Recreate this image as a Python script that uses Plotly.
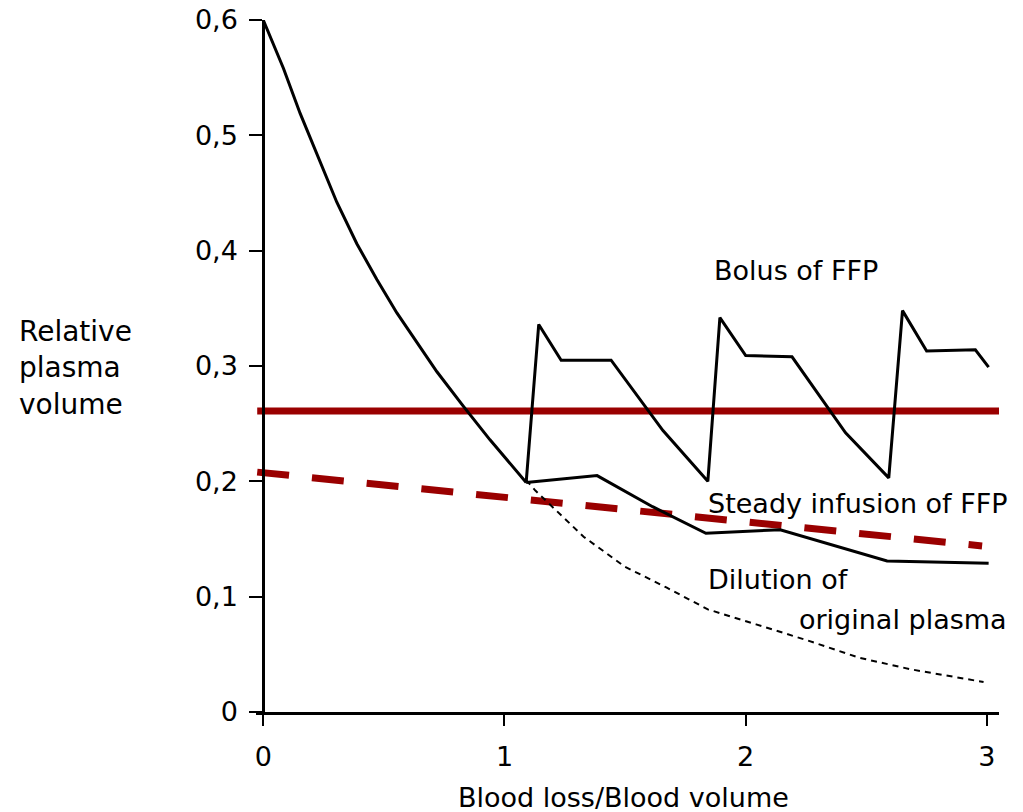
import plotly.graph_objects as go

# ---- data ----
decay_x = [0.0, 0.084, 0.153, 0.222, 0.305, 0.388, 0.471, 0.554, 0.637, 0.720, 0.830, 0.940, 1.090]
decay_y = [0.600, 0.558, 0.519, 0.484, 0.442, 0.406, 0.375, 0.346, 0.320, 0.295, 0.265, 0.236, 0.199]

bolus_x = [1.090, 1.142, 1.235, 1.442, 1.657, 1.843, 1.893, 2.000, 2.192, 2.414, 2.593, 2.650, 2.750, 2.952, 3.007]
bolus_y = [0.199, 0.336, 0.305, 0.305, 0.244, 0.200, 0.342, 0.309, 0.308, 0.242, 0.203, 0.348, 0.313, 0.314, 0.299]

steady_x = [1.090, 1.384, 1.614, 1.835, 2.143, 2.586, 3.007]
steady_y = [0.199, 0.205, 0.178, 0.155, 0.158, 0.131, 0.129]

dilution_x = [1.090, 1.128, 1.328, 1.499, 1.671, 1.843, 2.043, 2.257, 2.471, 2.685, 2.986]
dilution_y = [0.201, 0.192, 0.152, 0.126, 0.108, 0.089, 0.076, 0.062, 0.047, 0.037, 0.026]

red_solid_x = [-0.025, 3.05]
red_solid_y = [0.261, 0.261]

red_dash_x = [-0.025, 2.98]
red_dash_y = [0.208, 0.144]

y_ticks = [0, 0.1, 0.2, 0.3, 0.4, 0.5, 0.6]
y_tick_text = ["0", "0,1", "0,2", "0,3", "0,4", "0,5", "0,6"]
x_ticks = [0, 1, 2, 3]
x_tick_text = ["0", "1", "2", "3"]

labels = [
    ("Bolus of FFP", 1.861, 0.383),
    ("Steady infusion of FFP", 1.836, 0.181),
    ("Dilution of", 1.836, 0.1145),
    ("original plasma", 2.213, 0.080),
]

FONT = "DejaVu Sans"
RED = "#9a0000"
X_RANGE = [-0.03, 3.05]

fig = go.Figure()
fig.add_trace(go.Scatter(x=red_solid_x, y=red_solid_y, mode="lines",
                         line=dict(color=RED, width=7)))
fig.add_trace(go.Scatter(x=red_dash_x, y=red_dash_y, mode="lines",
                         line=dict(color=RED, width=7, dash="32px,23px")))
fig.add_trace(go.Scatter(x=decay_x, y=decay_y, mode="lines",
                         line=dict(color="black", width=3)))
fig.add_trace(go.Scatter(x=bolus_x, y=bolus_y, mode="lines",
                         line=dict(color="black", width=3)))
fig.add_trace(go.Scatter(x=steady_x, y=steady_y, mode="lines",
                         line=dict(color="black", width=3)))
fig.add_trace(go.Scatter(x=dilution_x, y=dilution_y, mode="lines",
                         line=dict(color="black", width=2, dash="6px,5px")))

for txt, x, y in labels:
    fig.add_annotation(x=x, y=y, text=txt, showarrow=False, xanchor="left", yanchor="middle",
                       font=dict(family=FONT, size=27, color="black"))

fig.add_annotation(xref="paper", yref="paper", x=-0.322, y=0.497,
                   text="Relative<br>plasma<br>volume", showarrow=False,
                   xanchor="left", yanchor="middle", align="left",
                   font=dict(family=FONT, size=28, color="black"))
fig.add_annotation(xref="paper", yref="paper", x=0.494, y=-0.123,
                   text="Blood loss/Blood volume", showarrow=False,
                   xanchor="center", yanchor="middle",
                   font=dict(family=FONT, size=27, color="black"))

ypos = (0 - X_RANGE[0]) / (X_RANGE[1] - X_RANGE[0])

fig.update_layout(
    width=1023, height=812,
    margin=dict(l=256, r=24, t=20, b=100),
    paper_bgcolor="white", plot_bgcolor="white",
    showlegend=False,
    font=dict(family=FONT, size=27, color="black"),
    xaxis=dict(range=X_RANGE, showgrid=False, zeroline=False, automargin=False,
               showline=True, linecolor="black", linewidth=3,
               ticks="outside", ticklen=11, tickwidth=2, tickcolor="black",
               tickvals=x_ticks, ticktext=x_tick_text, ticklabelstandoff=8,
               ticklabeloverflow="allow",
               tickfont=dict(family=FONT, size=27)),
    yaxis=dict(range=[0, 0.6], showgrid=False, zeroline=False, automargin=False,
               anchor="free", position=ypos,
               showline=True, linecolor="black", linewidth=3,
               ticks="outside", ticklen=13, tickwidth=2, tickcolor="black",
               tickvals=y_ticks, ticktext=y_tick_text, ticklabelstandoff=6,
               ticklabeloverflow="allow",
               tickfont=dict(family=FONT, size=27)),
)

fig.write_html("out.html",
               config={"displayModeBar": False, "staticPlot": True},
               post_script="document.body.style.margin='0';document.body.style.overflow='hidden';")
